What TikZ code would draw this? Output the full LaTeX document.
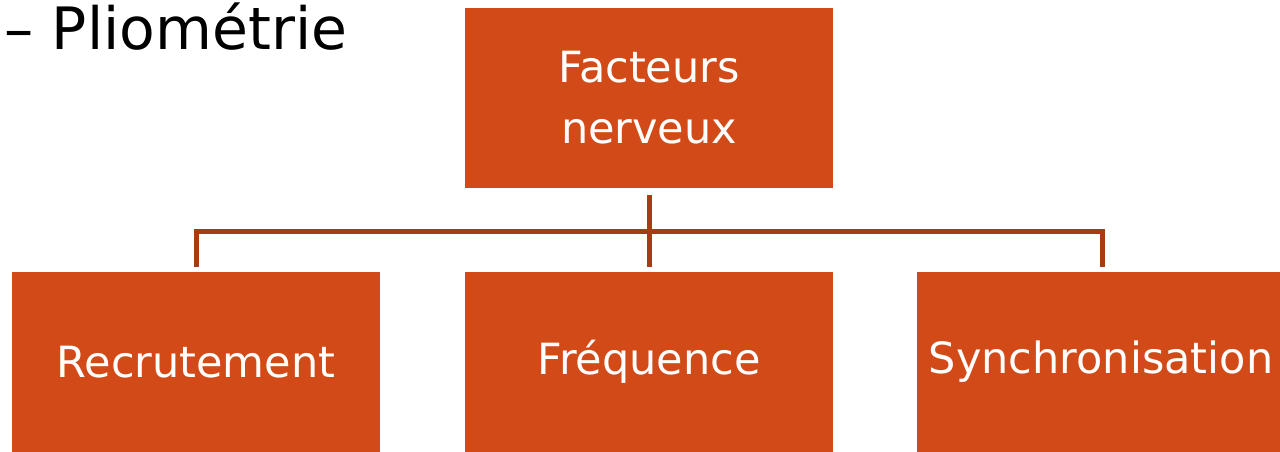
\documentclass[tikz,border=0pt]{standalone}
\usepackage{fontspec}
\setmainfont{DejaVu Sans}
\definecolor{boxfill}{HTML}{D24A18}
\definecolor{linecol}{HTML}{A83A14}
\begin{document}
\begin{tikzpicture}[x=1pt,y=-1pt,
  orgbox/.style={fill=boxfill,draw=none,text=white,minimum width=368pt,minimum height=180pt,inner sep=0pt,align=center,font=\fontsize{43}{61}\selectfont},
  conn/.style={draw=linecol,line width=5pt}]
\useasboundingbox (0,0) rectangle (1280,452);
\node[anchor=base west,inner sep=0pt,font=\fontsize{58.4}{70}\selectfont] (title) at (4,50) {– Pliométrie};
\node[orgbox] (top) at (649,98) {Facteurs\\nerveux};
\node[orgbox] (b1) at (196,362) {Recrutement};
\node[orgbox] (b2) at (649,362) {Fréquence};
\node[orgbox] (b3) at (1101,362) {Synchronisation};
\coordinate (hl) at (196,231);
\coordinate (hr) at (1102,231);
\draw[conn] ([yshift=-7pt]top.south) -- ([yshift=5pt]b2.north);
\draw[conn] ([yshift=5pt]b1.north) -- (hl) -- (hr) -- ([yshift=5pt]b3.north -| hr);
\end{tikzpicture}
\end{document}
